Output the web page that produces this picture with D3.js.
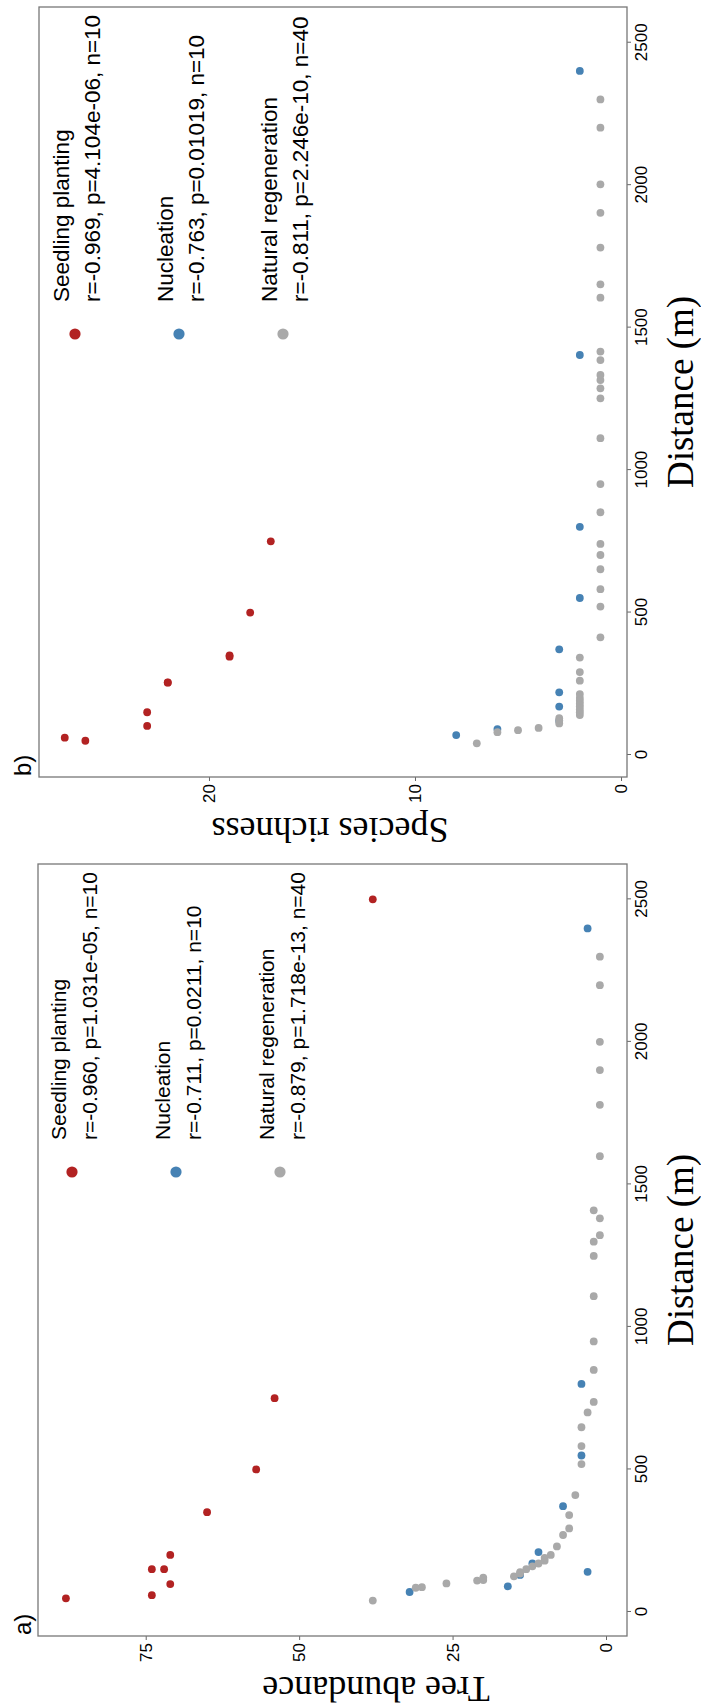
<!DOCTYPE html>
<html><head><meta charset="utf-8">
<script src="https://cdn.jsdelivr.net/npm/d3@7"></script>
<style>body{margin:0;background:#fff}svg{display:block}</style>
</head><body>
<svg id="c" width="701" height="1708"></svg>
<script>
// ---------- data ----------
const distTicks = [0, 500, 1000, 1500, 2000, 2500];
const abundTicks = [0, 25, 50, 75];
const richTicks = [0, 10, 20];
const seriesNames = ["Seedling planting", "Nucleation", "Natural regeneration"];
const seriesColors = ["#B22222", "#4682B4", "#A9A9A9"];
const statsA = ["r=-0.960, p=1.031e-05, n=10", "r=-0.711, p=0.0211, n=10", "r=-0.879, p=1.718e-13, n=40"];
const statsB = ["r=-0.969, p=4.104e-06, n=10", "r=-0.763, p=0.01019, n=10", "r=-0.811, p=2.246e-10, n=40"];

// panel a: tree abundance
const aSeedDist = [48, 59, 98, 150, 200, 350, 500, 750, 2500, 150];
const aSeedVal  = [88, 74, 71, 74, 71, 65, 57, 54, 38, 72];
const aNucDist = [70, 90, 130, 141, 170, 210, 371, 549, 800, 2398];
const aNucVal  = [32, 16, 14, 3, 12, 11, 7, 4, 4, 3];
const aNatDist = [40, 85, 87, 100, 110, 112, 120, 125, 135, 140, 150, 160, 170, 180, 190, 200, 230,
                  270, 293, 340, 410, 519, 582, 648, 700, 737, 849, 949, 1108, 1249, 1299, 1322, 1381, 1409,
                  1599, 1779, 1901, 2000, 2199, 2299];
const aNatVal  = [38, 31, 30, 26, 21, 20, 20, 15, 14, 14, 13, 12, 11, 10, 10, 9, 8,
                  7, 6, 6, 5, 4, 4, 4, 3, 2, 2, 2, 2, 2, 2, 1, 1, 2,
                  1, 1, 1, 1, 1, 1];

// panel b: species richness
const bSeedDist = [50, 61, 102, 150, 254, 350, 500, 750, 255, 345];
const bSeedVal  = [26, 27, 23, 23, 22, 19, 18, 17, 22, 19];
const bNucDist = [70, 91, 120, 170, 220, 371, 551, 801, 1404, 2401];
const bNucVal  = [8, 6, 3, 3, 3, 3, 2, 2, 2, 2];
const bNatDist = [41, 80, 87, 95, 111, 129, 140, 150, 160, 170, 180, 190, 200, 214, 261, 291, 342,
                  413, 521, 582, 652, 702, 741, 852, 951, 1112, 1252, 1287, 1316, 1334, 1386, 1416,
                  1605, 1652, 1781, 1903, 2003, 2202, 2301, 120];
const bNatVal  = [7, 6, 5, 4, 3, 3, 2, 2, 2, 2, 2, 2, 2, 2, 2, 2, 2,
                  1, 1, 1, 1, 1, 1, 1, 1, 1, 1, 1, 1, 1, 1, 1,
                  1, 1, 1, 1, 1, 1, 1, 3];

// ---------- drawing (chart built landscape, rotated -90deg onto the page) ----------
const W = 1708, H = 701;
const svg = d3.select("#c");
const root = svg.append("g").attr("transform", `translate(0,${W}) rotate(-90)`);

const SANS = "'Liberation Sans', Arial, sans-serif";
const SERIF = "'Liberation Serif', 'Times New Roman', serif";

function panel(o) {
  const g = root.append("g");
  const x = d3.scaleLinear().domain(o.xDomain).range([o.left, o.right]);
  const y = d3.scaleLinear().domain(o.yDomain).range([o.bottom, o.top]);

  const xa = g.append("g").attr("transform", `translate(0,${o.bottom})`)
    .call(d3.axisBottom(x).tickValues(distTicks).tickSize(4).tickPadding(4).tickFormat(d3.format("d")));
  const ya = g.append("g").attr("transform", `translate(${o.left},0)`)
    .call(d3.axisLeft(y).tickValues(o.yTicks).tickSize(4).tickPadding(3).tickFormat(d3.format("d")));
  [xa, ya].forEach(a => {
    a.select(".domain").remove();
    a.selectAll(".tick line").attr("stroke", "#666");
    a.selectAll("text").attr("font-family", SANS).attr("font-size", 17).attr("fill", "#000");
  });

  g.append("rect").attr("x", o.left).attr("y", o.top)
    .attr("width", o.right - o.left).attr("height", o.bottom - o.top)
    .attr("fill", "none").attr("stroke", "#777").attr("stroke-width", 1.3);

  o.series.forEach((s, i) => {
    g.append("g").selectAll("circle").data(d3.range(s.d.length)).join("circle")
      .attr("cx", k => x(s.d[k])).attr("cy", k => y(s.v[k])).attr("r", 3.9)
      .attr("fill", seriesColors[i]);
  });

  // legend
  const lg = g.append("g");
  seriesNames.forEach((nm, i) => {
    const yy = o.legY + i * 104;
    lg.append("circle").attr("cx", o.legMarkX).attr("cy", yy).attr("r", 5.6).attr("fill", seriesColors[i]);
    const t = lg.append("text").attr("x", o.legTextX).attr("y", yy - 6)
      .attr("font-family", SANS).attr("font-size", o.legFont).attr("fill", "#000");
    t.append("tspan").attr("x", o.legTextX).text(nm);
    t.append("tspan").attr("x", o.legTextX).attr("dy", 31).text(o.stats[i]);
  });

  // axis titles
  g.append("text").attr("x", (o.left + o.right) / 2).attr("y", 693)
    .attr("text-anchor", "middle").attr("font-family", SERIF).attr("font-size", 37)
    .text("Distance (m)");
  g.append("text").attr("transform", `translate(${o.left - 41},${o.yTitleC}) rotate(-90)`)
    .attr("text-anchor", "middle").attr("font-family", SERIF).attr("font-size", 36)
    .text(o.yTitle);
  g.append("text").attr("x", o.left + 1).attr("y", 31)
    .attr("font-family", SANS).attr("font-size", 24).text(o.tag);
}

panel({
  left: 72, right: 844, top: 38, bottom: 627,
  xDomain: [-84.3, 2624], yDomain: [-3.42, 92.55], yTicks: abundTicks,
  series: [{d: aSeedDist, v: aSeedVal}, {d: aNucDist, v: aNucVal}, {d: aNatDist, v: aNatVal}],
  legY: 72, legMarkX: 536, legTextX: 568, legFont: 21, stats: statsA,
  yTitle: "Tree abundance", yTitleC: 376, tag: "a)"
});
panel({
  left: 931, right: 1701, top: 39, bottom: 627,
  xDomain: [-77.2, 2625.4], yDomain: [-0.29, 28.25], yTicks: richTicks,
  series: [{d: bSeedDist, v: bSeedVal}, {d: bNucDist, v: bNucVal}, {d: bNatDist, v: bNatVal}],
  legY: 75, legMarkX: 1374, legTextX: 1406, legFont: 22.5, stats: statsB,
  yTitle: "Species richness", yTitleC: 330, tag: "b)"
});
</script>
</body></html>
